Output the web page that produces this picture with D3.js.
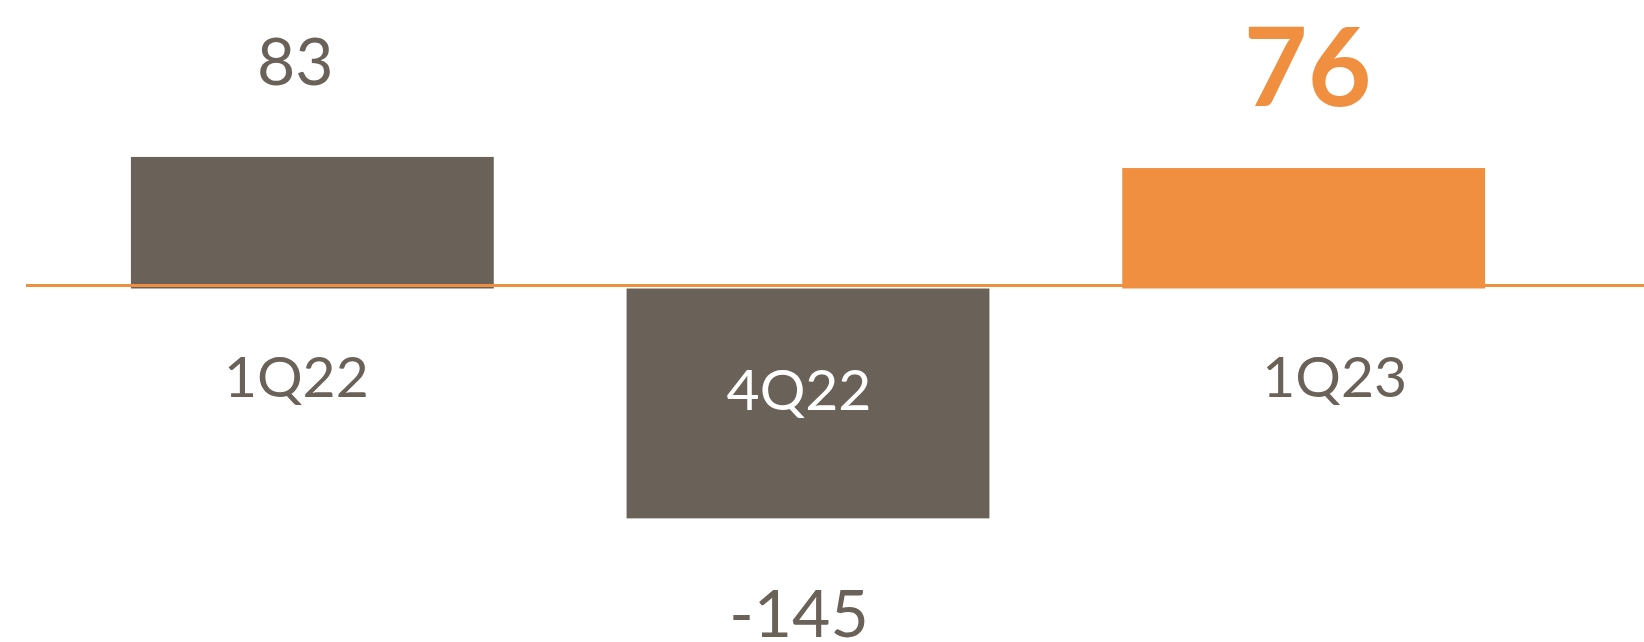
<!DOCTYPE html>
<html>
<head>
<meta charset="utf-8">
<script src="https://cdn.jsdelivr.net/npm/d3@7"></script>
<style>
  html, body { margin: 0; padding: 0; background: #fff; }
  svg { display: block; }
  text { font-family: Lato, "Open Sans", sans-serif; }
</style>
</head>
<body>
<div id="chart"></div>
<script>
// data
var quarters = ["1Q22", "4Q22", "1Q23"];
var values = [83, -145, 76];
var highlight = [false, false, true];

var w = 1644, h = 642;
var grey = "#6a6158", orange = "#f18f41";

var vis = d3.select("div#chart").append("svg")
    .attr("width", w)
    .attr("height", h);

var x = d3.scaleBand()
    .domain(quarters)
    .range([64.5, 1551.5])
    .paddingInner(0.268)
    .paddingOuter(0.134);

var y = d3.scaleLinear()
    .domain([-223, 182])
    .range([h, 0]);

var rows = quarters.map(function(q, i) {
  return {q: q, v: values[i], hi: highlight[i]};
});

// bars
vis.selectAll("rect.bar")
   .data(rows)
   .enter().append("rect")
   .attr("class", "bar")
   .attr("x", function(d) { return x(d.q); })
   .attr("width", x.bandwidth())
   .attr("y", function(d) { return Math.min(y(d.v), y(0)); })
   .attr("height", function(d) { return Math.abs(y(d.v) - y(0)); })
   .attr("fill", function(d) { return d.hi ? orange : grey; });

// zero line, sits a touch above the bar base
vis.append("line")
   .attr("x1", 26).attr("x2", w)
   .attr("y1", y(0) - 3).attr("y2", y(0) - 3)
   .attr("stroke", orange)
   .attr("stroke-width", 3);

// label nudges (text boxes in the original are not exactly centred)
var valDx = [-17, -9, 4];
var catDx = [-16, -9, 31];

vis.selectAll("text.val")
   .data(rows)
   .enter().append("text")
   .attr("class", "val")
   .attr("text-anchor", "middle")
   .attr("x", function(d, i) { return x(d.q) + x.bandwidth() / 2 + valDx[i]; })
   .attr("y", function(d) {
     if (d.v < 0) return y(d.v) + 119;
     return y(d.v) - (d.hi ? 62 : 72);
   })
   .attr("font-size", function(d) { return d.hi ? 110 : 66; })
   .attr("font-weight", function(d) { return d.hi ? "bold" : "normal"; })
   .attr("fill", function(d) { return d.hi ? orange : grey; })
   .text(function(d) { return d.v; });

vis.selectAll("text.cat")
   .data(rows)
   .enter().append("text")
   .attr("class", "cat")
   .attr("text-anchor", "middle")
   .attr("x", function(d, i) { return x(d.q) + x.bandwidth() / 2 + catDx[i]; })
   .attr("y", function(d) { return y(0) + (d.v < 0 ? 121 : 108); })
   .attr("font-size", 57)
   .attr("fill", function(d) { return d.v < 0 ? "#fff" : grey; })
   .text(function(d) { return d.q; });
</script>
</body>
</html>
